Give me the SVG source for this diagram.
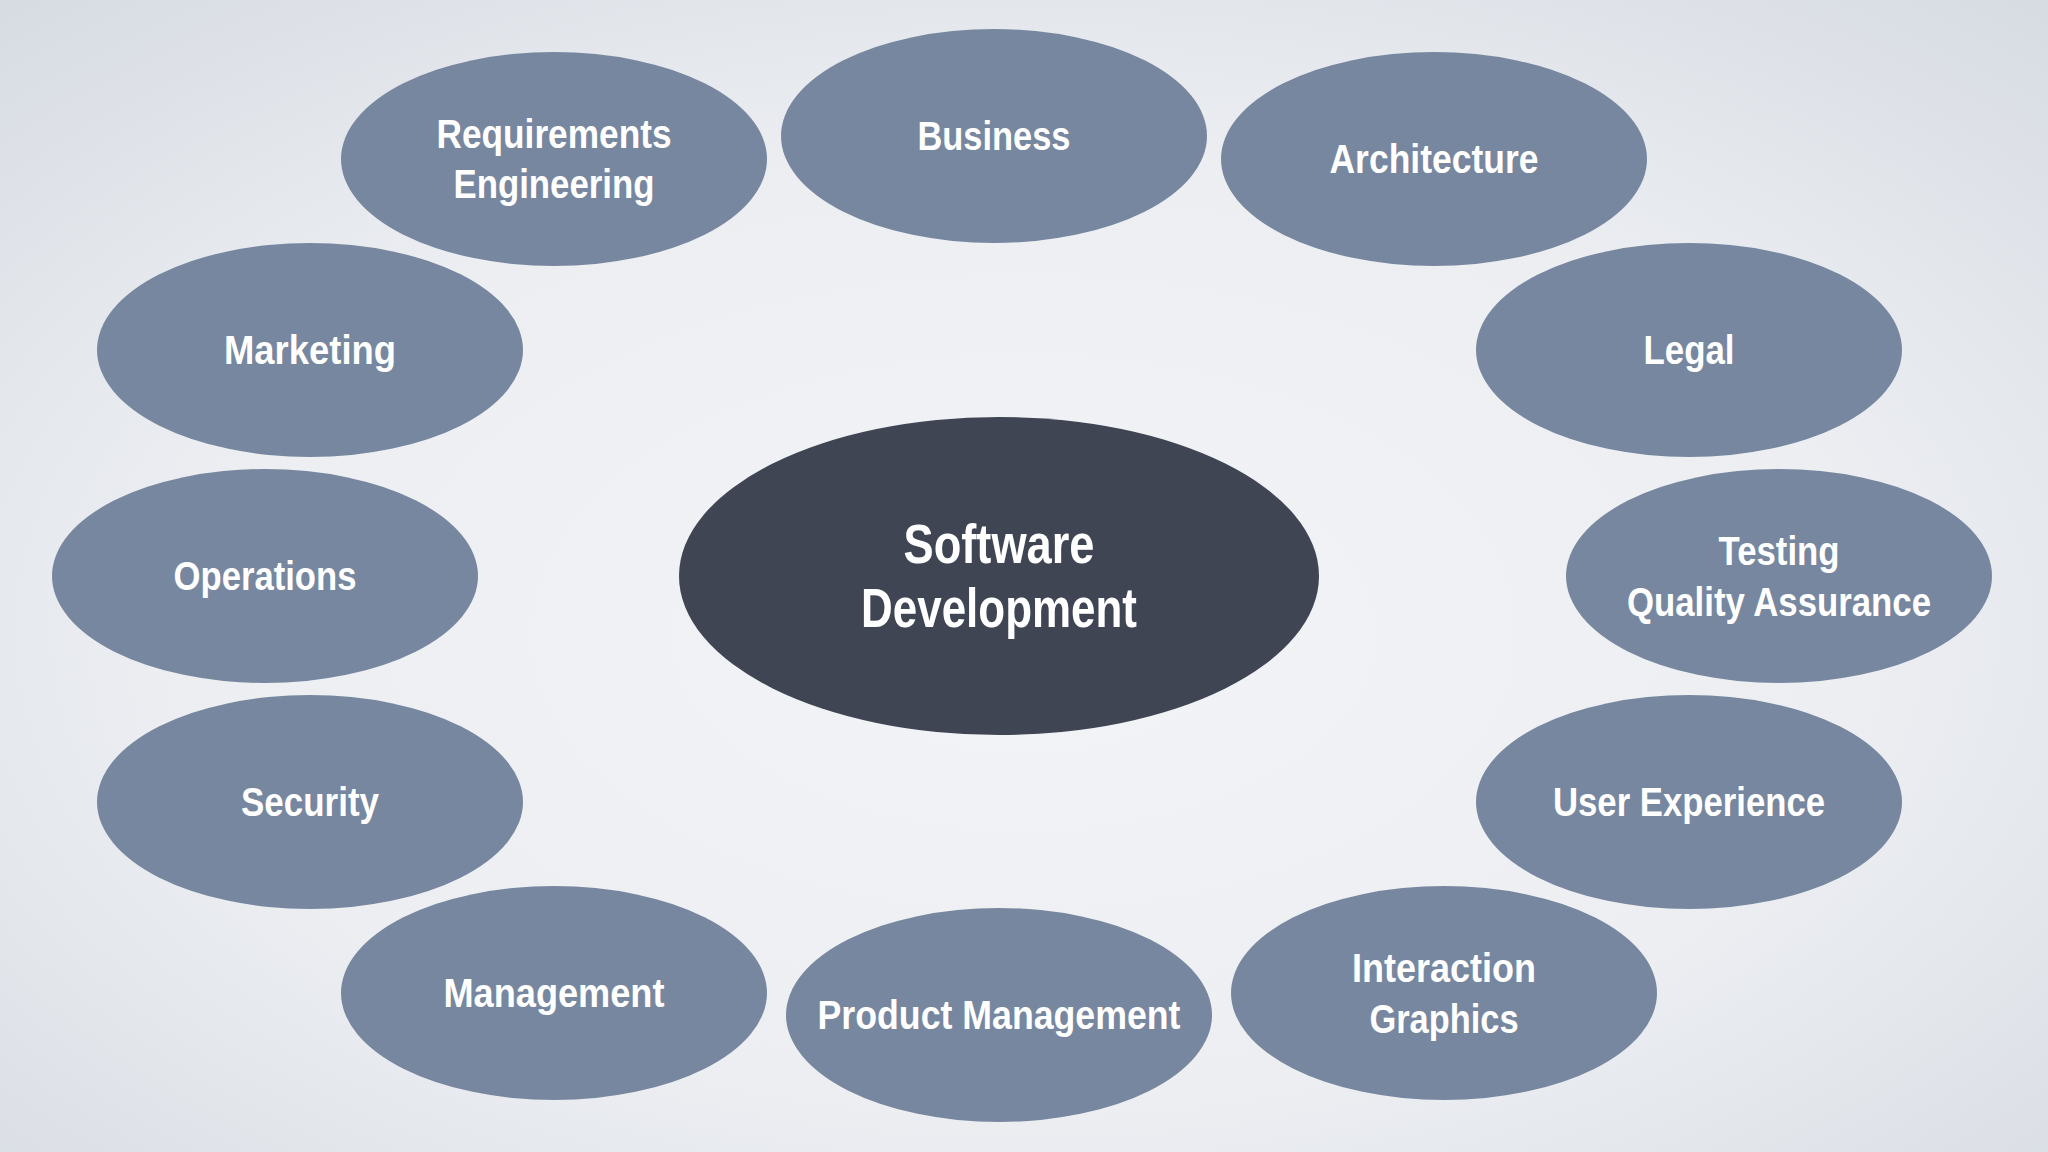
<svg xmlns="http://www.w3.org/2000/svg" width="2048" height="1152" viewBox="0 0 2048 1152">
<defs>
<radialGradient id="bg" cx="50%" cy="55%" r="75%">
<stop offset="0" stop-color="#f3f4f7"/>
<stop offset="0.55" stop-color="#eceef2"/>
<stop offset="1" stop-color="#d6dbe2"/>
</radialGradient>
<style>
.n{fill:#77879f}
.c{fill:#3f4553}
text{font-family:"Liberation Sans","Arial",sans-serif;font-weight:bold;fill:#ffffff;text-anchor:middle;font-size:40px}
.big{font-size:55px}
</style>
</defs>
<rect width="2048" height="1152" fill="url(#bg)"/>
<g id="connectors"/>
<g id="center"><ellipse class="c" cx="999" cy="576" rx="320" ry="159"/><text class="big" x="999" y="563" textLength="191" lengthAdjust="spacingAndGlyphs">Software</text><text class="big" x="999" y="627" textLength="276" lengthAdjust="spacingAndGlyphs">Development</text></g>
<g id="requirements"><ellipse class="n" cx="554" cy="159" rx="213" ry="107"/><text x="554" y="148" textLength="235" lengthAdjust="spacingAndGlyphs">Requirements</text><text x="554" y="198" textLength="201" lengthAdjust="spacingAndGlyphs">Engineering</text></g>
<g id="business"><ellipse class="n" cx="994" cy="136" rx="213" ry="107"/><text x="994" y="150" textLength="153" lengthAdjust="spacingAndGlyphs">Business</text></g>
<g id="architecture"><ellipse class="n" cx="1434" cy="159" rx="213" ry="107"/><text x="1434" y="173" textLength="209" lengthAdjust="spacingAndGlyphs">Architecture</text></g>
<g id="marketing"><ellipse class="n" cx="310" cy="350" rx="213" ry="107"/><text x="310" y="364" textLength="172" lengthAdjust="spacingAndGlyphs">Marketing</text></g>
<g id="legal"><ellipse class="n" cx="1689" cy="350" rx="213" ry="107"/><text x="1689" y="364" textLength="91" lengthAdjust="spacingAndGlyphs">Legal</text></g>
<g id="operations"><ellipse class="n" cx="265" cy="576" rx="213" ry="107"/><text x="265" y="590" textLength="183" lengthAdjust="spacingAndGlyphs">Operations</text></g>
<g id="testing"><ellipse class="n" cx="1779" cy="576" rx="213" ry="107"/><text x="1779" y="565" textLength="121" lengthAdjust="spacingAndGlyphs">Testing</text><text x="1779" y="616" textLength="304" lengthAdjust="spacingAndGlyphs">Quality Assurance</text></g>
<g id="security"><ellipse class="n" cx="310" cy="802" rx="213" ry="107"/><text x="310" y="816" textLength="138" lengthAdjust="spacingAndGlyphs">Security</text></g>
<g id="ux"><ellipse class="n" cx="1689" cy="802" rx="213" ry="107"/><text x="1689" y="816" textLength="272" lengthAdjust="spacingAndGlyphs">User Experience</text></g>
<g id="management"><ellipse class="n" cx="554" cy="993" rx="213" ry="107"/><text x="554" y="1007" textLength="221" lengthAdjust="spacingAndGlyphs">Management</text></g>
<g id="product"><ellipse class="n" cx="999" cy="1015" rx="213" ry="107"/><text x="999" y="1029" textLength="363" lengthAdjust="spacingAndGlyphs">Product Management</text></g>
<g id="interaction"><ellipse class="n" cx="1444" cy="993" rx="213" ry="107"/><text x="1444" y="982" textLength="184" lengthAdjust="spacingAndGlyphs">Interaction</text><text x="1444" y="1033" textLength="149" lengthAdjust="spacingAndGlyphs">Graphics</text></g>
</svg>
